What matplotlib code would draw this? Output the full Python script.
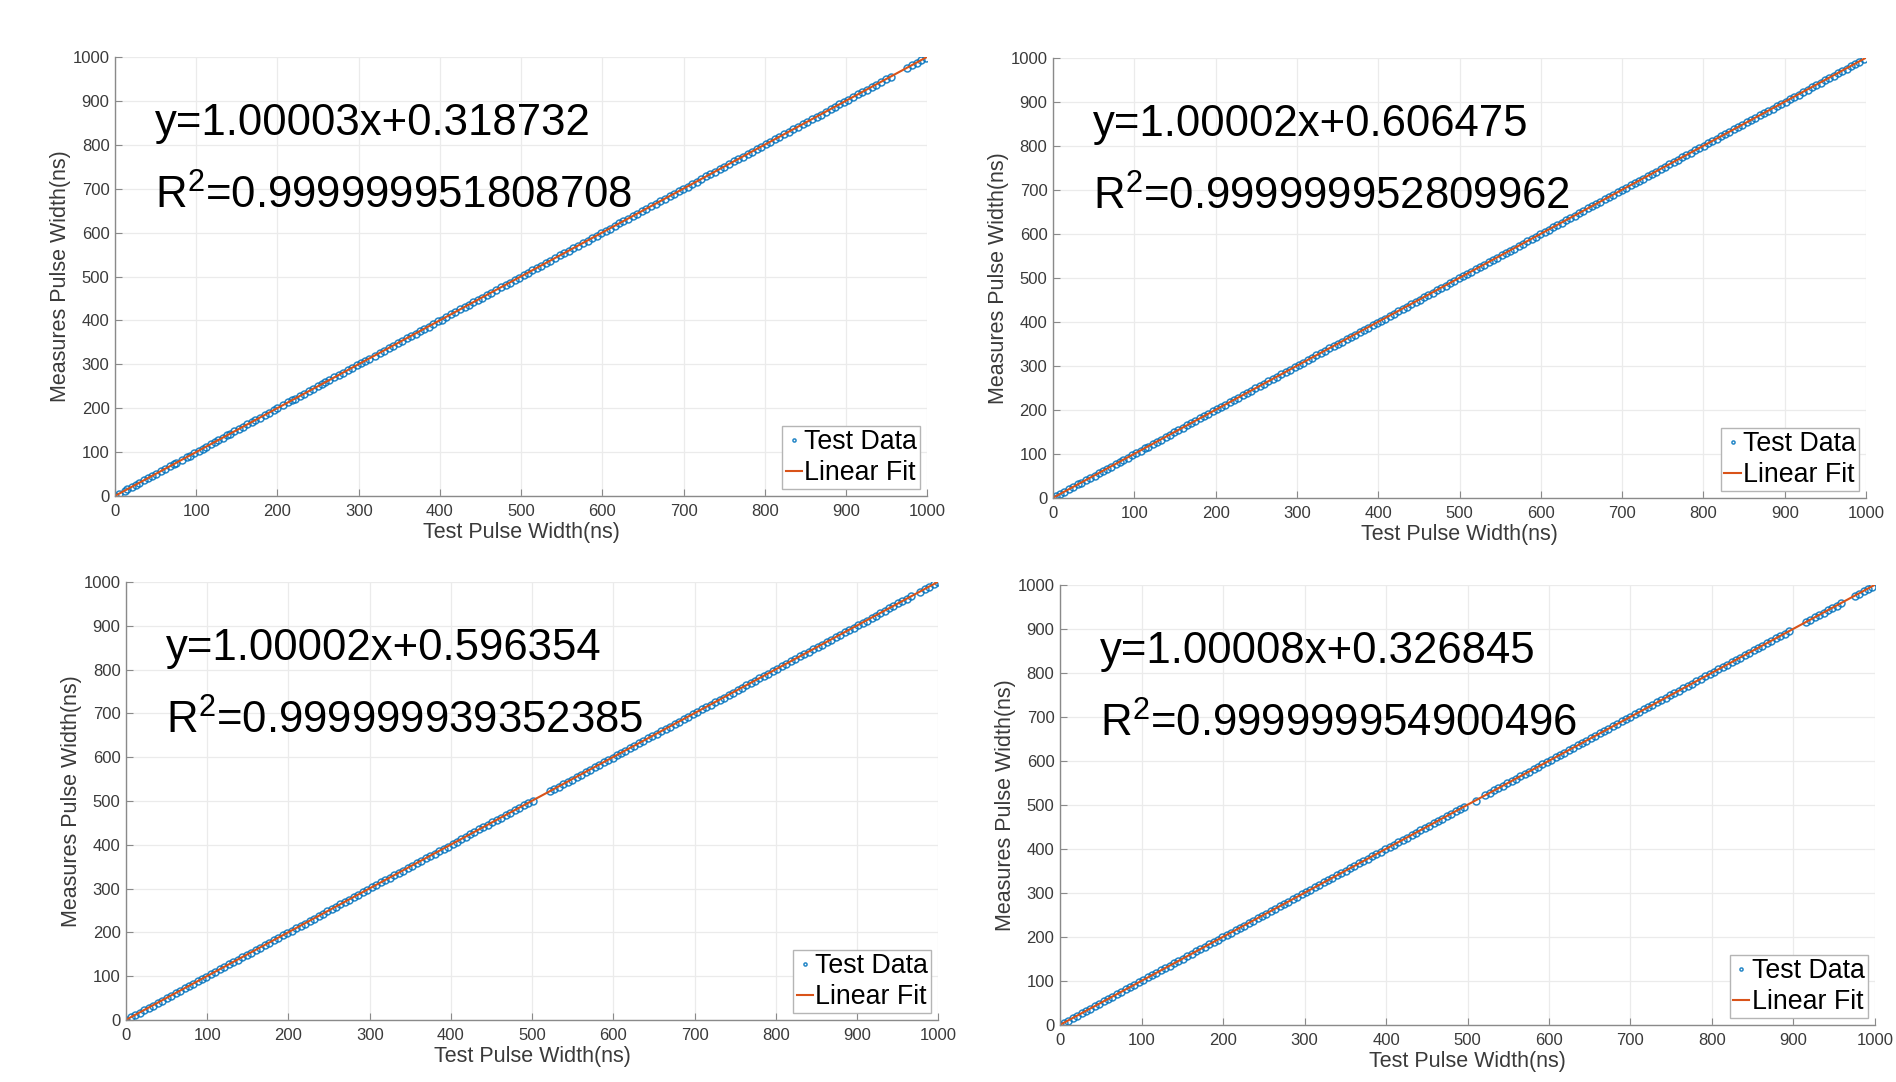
import numpy as np
import matplotlib
matplotlib.use('Agg')
import matplotlib.pyplot as plt

plt.rcParams['font.family'] = ['Liberation Sans', 'DejaVu Sans']
plt.rcParams['mathtext.fontset'] = 'custom'
plt.rcParams['mathtext.rm'] = 'Liberation Sans'

test1 = [0, 5, 12, 15, 21, 26, 30, 36, 41, 45, 50, 57, 62, 68, 73, 75, 83, 88, 92, 97,
         103, 108, 112, 118, 123, 127, 133, 138, 141, 147, 152, 158, 163, 168, 172, 178,
         184, 189, 196, 200, 207, 213, 218, 222, 228, 233, 239, 244, 250, 255, 259, 264,
         270, 276, 281, 287, 292, 298, 303, 308, 313, 320, 326, 331, 337, 342, 348, 353,
         359, 364, 370, 375, 381, 386, 392, 398, 402, 408, 414, 419, 425, 431, 436, 441,
         447, 452, 458, 463, 469, 475, 481, 486, 492, 497, 503, 508, 514, 520, 525, 531,
         536, 542, 548, 553, 559, 564, 570, 576, 582, 587, 593, 598, 604, 609, 615, 621,
         626, 632, 638, 643, 649, 654, 660, 666, 671, 677, 683, 688, 694, 699, 705, 711,
         716, 722, 728, 733, 739, 745, 750, 756, 762, 767, 773, 779, 784, 790, 796, 801,
         807, 813, 818, 824, 830, 835, 841, 847, 852, 858, 864, 869, 875, 881, 886, 892,
         898, 903, 909, 915, 920, 926, 932, 937, 943, 949, 955, 975, 981, 987, 993, 998]
meas1 = test1

test2 = [0, 4, 9, 14, 20, 25, 31, 35, 40, 46, 51, 56, 62, 66, 71, 77, 82, 86, 92, 97,
         102, 108, 113, 117, 123, 128, 133, 139, 144, 149, 154, 160, 165, 170, 175, 181,
         186, 191, 197, 202, 207, 212, 218, 223, 228, 234, 239, 244, 249, 255, 260, 265,
         271, 276, 281, 287, 292, 297, 302, 308, 313, 318, 324, 329, 334, 340, 345, 350,
         355, 361, 366, 371, 377, 382, 387, 393, 398, 403, 408, 414, 419, 424, 430, 435,
         440, 446, 451, 456, 461, 467, 472, 477, 483, 488, 493, 499, 504, 509, 514, 520,
         525, 530, 536, 541, 546, 552, 557, 562, 567, 573, 578, 583, 589, 594, 599, 605,
         610, 615, 620, 626, 631, 636, 642, 647, 652, 658, 663, 668, 673, 679, 684, 689,
         695, 700, 705, 711, 716, 721, 726, 732, 737, 742, 748, 753, 758, 764, 769, 774,
         779, 785, 790, 795, 801, 806, 811, 817, 822, 827, 832, 838, 843, 848, 854, 859,
         864, 870, 875, 880, 885, 891, 896, 901, 907, 912, 917, 923, 928, 933, 938, 944,
         949, 954, 960, 965, 970, 976, 981, 986, 991, 997]
meas2 = test2

test3 = [0, 6, 11, 17, 22, 28, 33, 39, 44, 50, 55, 61, 66, 72, 77, 83, 88, 94, 99, 105,
         110, 116, 121, 127, 132, 138, 143, 149, 154, 160, 165, 171, 176, 182, 187, 193,
         198, 204, 209, 215, 220, 226, 231, 237, 242, 248, 253, 259, 264, 270, 275, 281,
         286, 292, 297, 303, 308, 314, 319, 325, 330, 336, 341, 347, 352, 358, 363, 369,
         374, 380, 385, 391, 396, 402, 407, 413, 418, 424, 429, 435, 440, 446, 451, 457,
         462, 468, 473, 479, 484, 490, 495, 501, 522, 527, 533, 538, 544, 549, 555, 560,
         566, 571, 577, 582, 588, 593, 599, 604, 610, 615, 621, 626, 632, 637, 643, 648,
         654, 659, 665, 670, 676, 681, 687, 692, 698, 703, 709, 714, 720, 725, 731, 736,
         742, 747, 753, 758, 764, 769, 775, 780, 786, 791, 797, 802, 808, 813, 819, 824,
         830, 835, 841, 846, 852, 857, 863, 868, 874, 879, 885, 890, 896, 901, 907, 912,
         918, 923, 929, 934, 940, 945, 951, 956, 962, 967, 978, 984, 989, 995, 1000]
meas3 = test3

test4 = [0, 5, 10, 16, 21, 27, 32, 37, 43, 48, 54, 59, 64, 70, 75, 81, 86, 91, 97, 102,
         108, 113, 118, 124, 129, 135, 140, 145, 151, 156, 162, 167, 172, 178, 183, 189,
         194, 199, 205, 210, 216, 221, 226, 232, 237, 243, 248, 253, 259, 264, 270, 275,
         280, 286, 291, 297, 302, 307, 313, 318, 324, 329, 334, 340, 345, 351, 356, 361,
         367, 372, 378, 383, 388, 394, 399, 405, 410, 415, 421, 426, 432, 437, 442, 448,
         453, 459, 464, 469, 475, 480, 486, 491, 496, 510, 522, 527, 533, 538, 544, 549,
         555, 560, 565, 571, 576, 582, 587, 592, 598, 603, 609, 614, 619, 625, 630, 636,
         641, 646, 652, 657, 663, 668, 673, 679, 684, 690, 695, 700, 706, 711, 717, 722,
         727, 733, 738, 744, 749, 754, 760, 765, 771, 776, 781, 787, 792, 798, 803, 808,
         814, 819, 825, 830, 835, 841, 846, 852, 857, 862, 868, 873, 879, 884, 889, 895,
         915, 920, 926, 931, 937, 942, 947, 953, 958, 975, 980, 986, 991, 996]
meas4 = test4

slopes = [1.00003, 1.00002, 1.00002, 1.00008]
intercepts = [0.318732, 0.606475, 0.596354, 0.326845]
eq_labels = ['y=1.00003x+0.318732', 'y=1.00002x+0.606475',
             'y=1.00002x+0.596354', 'y=1.00008x+0.326845']
r2_labels = ['0.999999951808708', '0.999999952809962',
             '0.999999939352385', '0.999999954900496']

tests = [test1, test2, test3, test4]
meas = [meas1, meas2, meas3, meas4]

# axes rectangles in figure fractions (left, bottom, width, height)
rects = [(0.0607, 0.5416, 0.4283, 0.4057),
         (0.5554, 0.5397, 0.4288, 0.4067),
         (0.0665, 0.0573, 0.4283, 0.4048),
         (0.5591, 0.0527, 0.4298, 0.4067)]

blue = '#0072BD'
orange = '#D95319'
txt_gray = '#3a3a3a'

fig = plt.figure(figsize=(18.96, 10.82), dpi=100)
for i in range(4):
    ax = fig.add_axes(rects[i])
    ax.plot(tests[i], meas[i], 'o', ms=5, mfc='none', mec=blue, mew=1.1,
            alpha=0.85, label='Test Data')
    fx = np.array([0, 1000])
    ax.plot(fx, slopes[i] * fx + intercepts[i], '-', color=orange, lw=1.5,
            label='Linear Fit')
    ax.set_xlim(0, 1000)
    ax.set_ylim(0, 1000)
    ax.set_xticks(range(0, 1001, 100))
    ax.set_yticks(range(0, 1001, 100))
    ax.grid(True, color='#ebebeb', lw=0.9)
    ax.set_axisbelow(True)
    for s in ['top', 'right']:
        ax.spines[s].set_visible(False)
    for s in ['left', 'bottom']:
        ax.spines[s].set_color('#8a8a8a')
        ax.spines[s].set_linewidth(1.0)
    ax.tick_params(direction='in', length=5, width=0.8, color='#8a8a8a',
                   labelsize=12, labelcolor=txt_gray)
    ax.tick_params(axis='x', pad=6)
    ax.tick_params(axis='y', pad=4)
    ax.set_xlabel('Test Pulse Width(ns)', fontsize=15.5, color=txt_gray, labelpad=2)
    ax.set_ylabel('Measures Pulse Width(ns)', fontsize=15.5, color=txt_gray, labelpad=1)
    ax.text(49, 848, eq_labels[i], fontsize=31.5, va='center', ha='left')
    ax.text(49, 683, r'R$^\mathregular{2}$=' + r2_labels[i], fontsize=31.5,
            va='center', ha='left')
    leg = ax.legend(loc='lower right', fontsize=19.3, handlelength=0.6,
                    handletextpad=0.1, borderpad=0.12, labelspacing=0.18,
                    borderaxespad=0.25, fancybox=False, markerscale=0.45,
                    framealpha=1)
    leg.get_frame().set_edgecolor('#b5b5b5')
    leg.get_frame().set_linewidth(1.0)

fig.savefig('out.png', dpi=100)
